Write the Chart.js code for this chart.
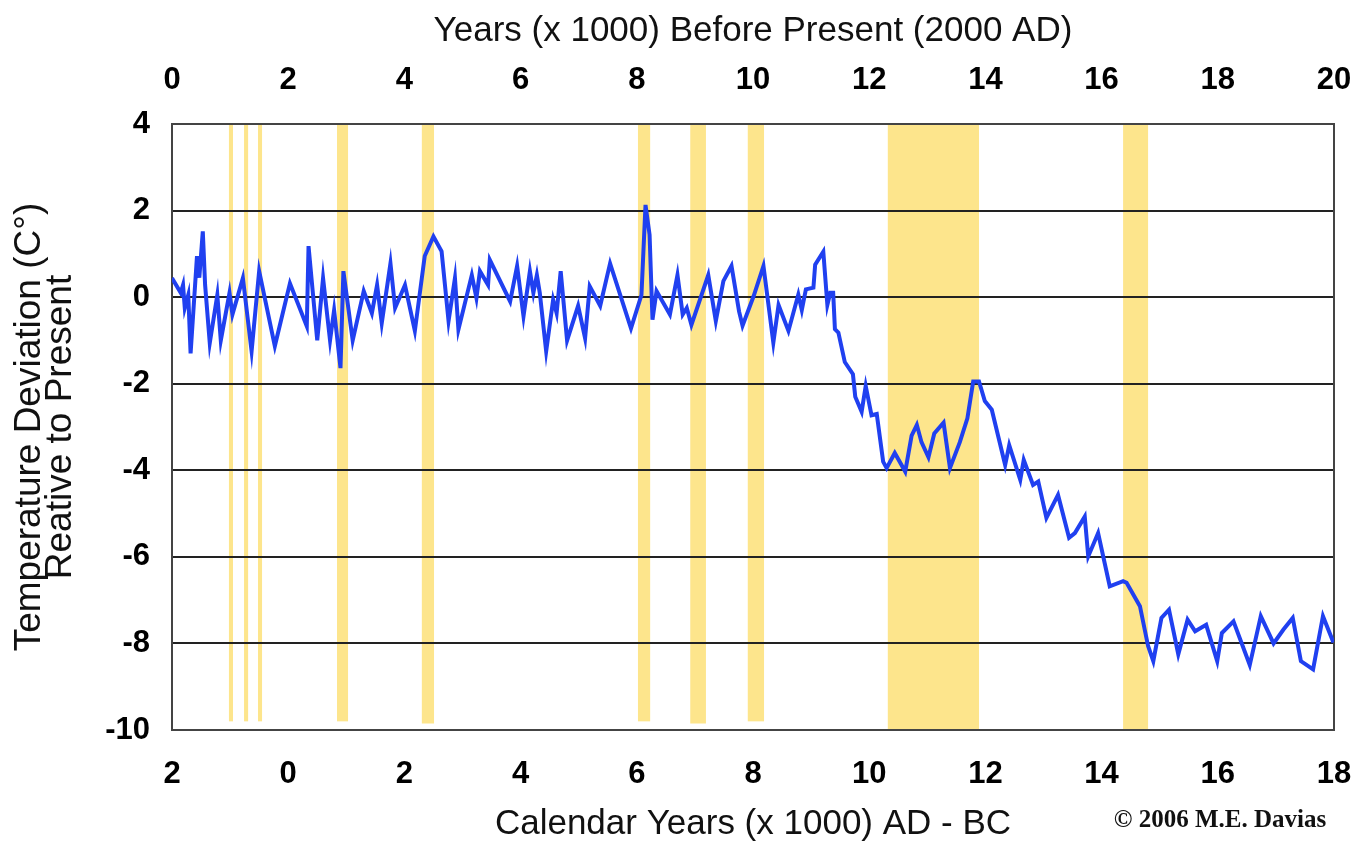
<!DOCTYPE html>
<html>
<head>
<meta charset="utf-8">
<title>Temperature deviation, last 20,000 years</title>
<script src="https://cdn.jsdelivr.net/npm/chart.js@4/dist/chart.umd.min.js"></script>
<style>
  body { margin: 0; background: #fff; }
  canvas { display: block; }
</style>
</head>
<body>
<canvas id="myChart" width="1362" height="845"></canvas>
<script>
// years before present (x 1000)
const yearsBP = [
  0.00, 0.15, 0.19, 0.22, 0.28, 0.32, 0.43, 0.47, 0.53, 0.57,
  0.65, 0.78, 0.84, 0.99, 1.04, 1.22, 1.37, 1.50, 1.77, 2.03,
  2.32, 2.35, 2.50, 2.60, 2.72, 2.79, 2.90, 2.95, 3.11, 3.30,
  3.44, 3.53, 3.61, 3.76, 3.84, 4.01, 4.18, 4.35, 4.50, 4.64,
  4.76, 4.87, 4.93, 5.16, 5.24, 5.30, 5.44, 5.47, 5.82, 5.94,
  6.05, 6.16, 6.22, 6.28, 6.33, 6.44, 6.56, 6.62, 6.69, 6.80,
  6.99, 7.11, 7.19, 7.37, 7.54, 7.90, 8.08, 8.15, 8.22, 8.27,
  8.34, 8.57, 8.70, 8.79, 8.86, 8.94, 9.23, 9.36, 9.49, 9.63,
  9.76, 9.82, 10.01, 10.18, 10.35, 10.44, 10.61, 10.78, 10.84, 10.91,
  11.04, 11.07, 11.21, 11.28, 11.33, 11.38, 11.41, 11.47, 11.58, 11.72,
  11.76, 11.87, 11.94, 12.04, 12.13, 12.24, 12.30, 12.44, 12.62, 12.73,
  12.82, 12.90, 13.02, 13.12, 13.28, 13.39, 13.56, 13.69, 13.79, 13.89,
  13.99, 14.11, 14.34, 14.41, 14.60, 14.66, 14.82, 14.91, 15.05, 15.25,
  15.44, 15.54, 15.71, 15.77, 15.94, 16.14, 16.37, 16.43, 16.66, 16.80,
  16.89, 17.03, 17.16, 17.32, 17.48, 17.61, 17.80, 17.99, 18.07, 18.27,
  18.55, 18.74, 18.96, 19.13, 19.29, 19.43, 19.64, 19.81, 19.99
];

// temperature deviation (C) relative to present
const tempDev = [
  0.44, 0.10, 0.28, -0.25, 0.05, -1.30, 0.95, 0.45, 1.52, 0.28,
  -1.06, 0.05, -1.00, 0.10, -0.40, 0.44, -1.25, 0.60, -1.13, 0.32,
  -0.67, 1.18, -1.00, 0.44, -1.00, -0.30, -1.64, 0.60, -1.00, 0.14,
  -0.37, 0.28, -0.60, 0.78, -0.25, 0.28, -0.78, 0.95, 1.40, 1.06,
  -0.55, 0.44, -0.75, 0.51, -0.02, 0.60, 0.28, 0.86, -0.10, 0.72,
  -0.44, 0.60, 0.10, 0.51, 0.10, -1.25, -0.06, -0.37, 0.60, -1.00,
  -0.20, -0.95, 0.25, -0.20, 0.78, -0.72, 0.05, 2.13, 1.44, -0.52,
  0.14, -0.40, 0.51, -0.40, -0.25, -0.64, 0.51, -0.55, 0.37, 0.72,
  -0.33, -0.66, 0.02, 0.72, -1.05, -0.18, -0.78, 0.06, -0.30, 0.18,
  0.22, 0.75, 1.05, -0.18, 0.10, 0.10, -0.74, -0.82, -1.50, -1.78,
  -2.30, -2.65, -2.05, -2.73, -2.70, -3.80, -3.95, -3.60, -4.03, -3.20,
  -2.95, -3.35, -3.70, -3.15, -2.90, -3.95, -3.35, -2.80, -1.95, -1.95,
  -2.40, -2.60, -3.88, -3.42, -4.22, -3.76, -4.34, -4.26, -5.10, -4.57,
  -5.56, -5.45, -5.07, -5.99, -5.45, -6.68, -6.56, -6.60, -7.14, -8.06,
  -8.41, -7.41, -7.22, -8.25, -7.45, -7.72, -7.57, -8.41, -7.76, -7.49,
  -8.50, -7.37, -8.00, -7.68, -7.41, -8.41, -8.60, -7.37, -7.98
];

// shaded periods (years BP x 1000) and how far down each band reaches
const bandStart  = [0.98, 1.24, 1.48, 2.84, 4.30, 8.02, 8.92, 9.91, 12.32, 16.37];
const bandEnd    = [1.05, 1.31, 1.55, 3.03, 4.51, 8.23, 9.19, 10.19, 13.89, 16.80];
const bandBottom = [-9.8, -9.8, -9.8, -9.8, -9.85, -9.8, -9.85, -9.8, -10, -10];

const yMin = -10;
const yMax = 4;

const lineData = yearsBP.map((v, i) => ({x: v, y: tempDev[i]}));

const bandsPlugin = {
  id: 'bands',
  beforeDraw(chart) {
    const {ctx, scales: {x, y}} = chart;
    ctx.save();
    ctx.fillStyle = '#fde58c';
    bandStart.forEach((s, i) => {
      const left = x.getPixelForValue(s);
      const right = x.getPixelForValue(bandEnd[i]);
      const top = y.getPixelForValue(yMax);
      const bottom = y.getPixelForValue(bandBottom[i]);
      ctx.fillRect(left, top, right - left, bottom - top);
    });
    ctx.restore();
  }
};

const creditPlugin = {
  id: 'credit',
  afterDraw(chart) {
    const ctx = chart.ctx;
    ctx.save();
    ctx.font = 'bold 25px "Liberation Serif", serif';
    ctx.fillStyle = '#111';
    ctx.textAlign = 'center';
    ctx.textBaseline = 'middle';
    ctx.fillText('\u00a9 2006 M.E. Davias', 1220, 821);
    ctx.restore();
  }
};

const tickFont = {family: '"Liberation Sans", Arial, sans-serif', size: 31, weight: 'bold'};
const titleFont = {family: '"Liberation Sans", Arial, sans-serif', size: 35};

// fixed box sizes so the plot area sits where it does in the original
function fitX(height) {
  return (scale) => {
    scale.height = height;
    scale.paddingLeft = 0;
    scale.paddingRight = 0;
  };
}

const chartLayout = document.getElementById('myChart');

const myChart = new Chart(chartLayout, {
  type: 'line',
  data: {
    datasets: [{
      label: 'Temperature deviation',
      data: lineData,
      borderColor: '#2040f0',
      borderWidth: 4,
      pointRadius: 0,
      tension: 0,
      fill: false
    }]
  },
  options: {
    responsive: false,
    animation: false,
    layout: { padding: 0 },
    plugins: {
      legend: { display: false },
      tooltip: { enabled: false }
    },
    scales: {
      x: {
        type: 'linear',
        position: 'bottom',
        min: 0,
        max: 20,
        afterFit: fitX(115),
        grid: { display: false },
        border: { display: true, color: '#444', width: 2 },
        ticks: {
          stepSize: 2,
          padding: 18,
          maxRotation: 0,
          color: '#000',
          font: tickFont,
          callback: (v) => Math.abs(v - 2)
        },
        title: {
          display: true,
          text: 'Calendar Years (x 1000) AD - BC',
          color: '#111',
          font: titleFont,
          padding: {top: 0, bottom: 0}
        }
      },
      xTop: {
        type: 'linear',
        position: 'top',
        min: 0,
        max: 20,
        afterFit: fitX(124),
        grid: { display: false },
        border: { display: true, color: '#444', width: 2 },
        ticks: {
          stepSize: 2,
          padding: 17,
          maxRotation: 0,
          color: '#000',
          font: tickFont
        },
        title: {
          display: true,
          text: 'Years (x 1000) Before Present (2000 AD)',
          color: '#111',
          font: titleFont,
          padding: {top: 10, bottom: 0}
        }
      },
      y: {
        position: 'left',
        min: yMin,
        max: yMax,
        afterFit: (scale) => { scale.width = 172; },
        grid: { color: '#222', lineWidth: 2, drawTicks: false },
        border: { display: true, color: '#444', width: 2 },
        ticks: {
          stepSize: 2,
          padding: 22,
          color: '#000',
          font: tickFont
        },
        title: {
          display: true,
          text: ['Temperature Deviation (C\u00b0)', 'Reative to Present'],
          color: '#111',
          font: {family: '"Liberation Sans", Arial, sans-serif', size: 37, lineHeight: 0.82},
          padding: {top: 15, bottom: 0}
        }
      },
      yRight: {
        position: 'right',
        min: yMin,
        max: yMax,
        afterFit: (scale) => { scale.width = 28; },
        grid: { display: false },
        border: { display: true, color: '#444', width: 2 },
        ticks: { display: false }
      }
    }
  },
  plugins: [bandsPlugin, creditPlugin]
});
</script>
</body>
</html>
